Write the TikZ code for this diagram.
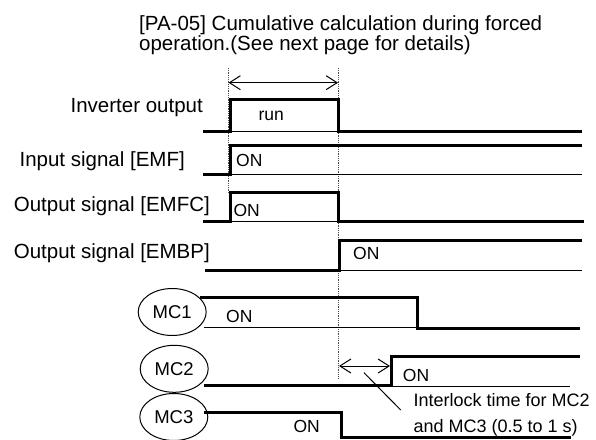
\documentclass[tikz,border=0pt]{standalone}
\usepackage{fontspec}
\setmainfont{Liberation Sans}
\usetikzlibrary{arrows.meta,shapes.geometric}
\begin{document}
\begin{tikzpicture}[x=1pt,y=-1pt,
  sig/.style={line width=3pt, line join=miter},
  thinbase/.style={line width=0.9pt},
  guide/.style={densely dotted, line width=0.8pt, black!70},
  dim/.style={line width=1pt, {Straight Barb[length=11pt,width=14pt]}-{Straight Barb[length=11pt,width=14pt]}},
  lab/.style={font=\fontsize{20.5}{20}\selectfont, inner sep=0pt},
  small/.style={font=\fontsize{17.5}{20}\selectfont, inner sep=0pt},
  note/.style={font=\fontsize{18}{26.7}\selectfont, inner sep=0pt, align=left},
  mc/.style={ellipse, draw, line width=1pt, minimum width=68pt, minimum height=47pt, inner sep=0pt, font=\fontsize{18.5}{20}\selectfont}]
\useasboundingbox (0,0) rectangle (596,439);

% title (anchor at baseline of last line)
\node[lab, align=left, anchor=base west] (title) at (139,50.5)
  {[PA-05] Cumulative calculation during forced\\operation.(See next page for details)};

% time marks
\coordinate (t1top) at (228.5,68);
\coordinate (t2top) at (338,68);
\coordinate (t1bot) at (228.5,193);
\coordinate (t2bot) at (338,378);
\draw[guide] (t1top) -- (t1bot);
\draw[guide] (t2top) -- (t2bot);
\coordinate (a1) at (228.5,82.7);
\coordinate (a2) at (338,82.7);
\draw[dim] (a1) -- (a2);

% labels
\node[lab, anchor=base east] (linv) at (203,112.7) {Inverter output};
\node[lab, anchor=base east] (lemf) at (185,166.7) {Input signal [EMF]};
\node[lab, anchor=base east] (lemfc) at (210,211.7) {Output signal [EMFC]};
\node[lab, anchor=base east] (lembp) at (210,258.3) {Output signal [EMBP]};

\node[mc] (mc1) at (172.2,312) {MC1};
\node[mc] (mc2) at (174.2,368.8) {MC2};
\node[mc] (mc3) at (173.8,417) {MC3};

% Inverter output
\draw[thinbase] (230,131) -- (338,131);
\draw[sig] (203,131) -- (230,131) -- (230,99) -- (338,99) -- (338,131) -- (582,131);
\node[small, anchor=base west] (run) at (258.3,120) {run};

% EMF
\draw[thinbase] (230,174.5) -- (582,174.5);
\draw[sig] (203,174.5) -- (230,174.5) -- (230,145.5) -- (582,145.5);
\node[small, anchor=base west] (onemf) at (236,166) {ON};

% EMFC
\draw[thinbase] (230,221.7) -- (338,221.7);
\draw[sig] (203,221.7) -- (230,221.7) -- (230,192.7) -- (338,192.7) -- (338,221.7) -- (584,221.7);
\node[small, anchor=base west] (onemfc) at (233.3,216) {ON};

% EMBP
\draw[thinbase] (339.5,270.5) -- (582,270.5);
\draw[sig] (205,270) -- (339.5,270) -- (339.5,240.5) -- (582,240.5);
\node[small, anchor=base west] (onembp) at (353,259.3) {ON};

% MC1
\draw[thinbase] (204,327.7) -- (417.7,327.7);
\draw[sig] (200,297.7) -- (417.7,297.7) -- (417.7,328.5) -- (580,328.5);
\node[small, anchor=base west] (onmc1) at (226,322.7) {ON};

% MC2
\draw[thinbase] (391,386.7) -- (570,386.7);
\draw[sig] (204,385) -- (391,385) -- (391,356) -- (580,356);
\node[small, anchor=base west] (onmc2) at (402.7,381.7) {ON};

% MC3
\draw[sig] (204,412.3) -- (341.7,412.3) -- (341.7,437) -- (571,437);
\node[small, anchor=base west] (onmc3) at (293.3,432.7) {ON};

% interlock
\coordinate (i1) at (339,366);
\coordinate (i2) at (390,366);
\draw[dim] (i1) -- (i2);
\node[note, anchor=base west] (inote) at (413.3,432.7)
  {Interlock time for MC2\\and MC3 (0.5 to 1 s)};
\coordinate (l1) at (364,372.7);
\coordinate (l2) at (400.7,410);
\draw[line width=1pt] (l1) -- (l2);
\end{tikzpicture}
\end{document}
